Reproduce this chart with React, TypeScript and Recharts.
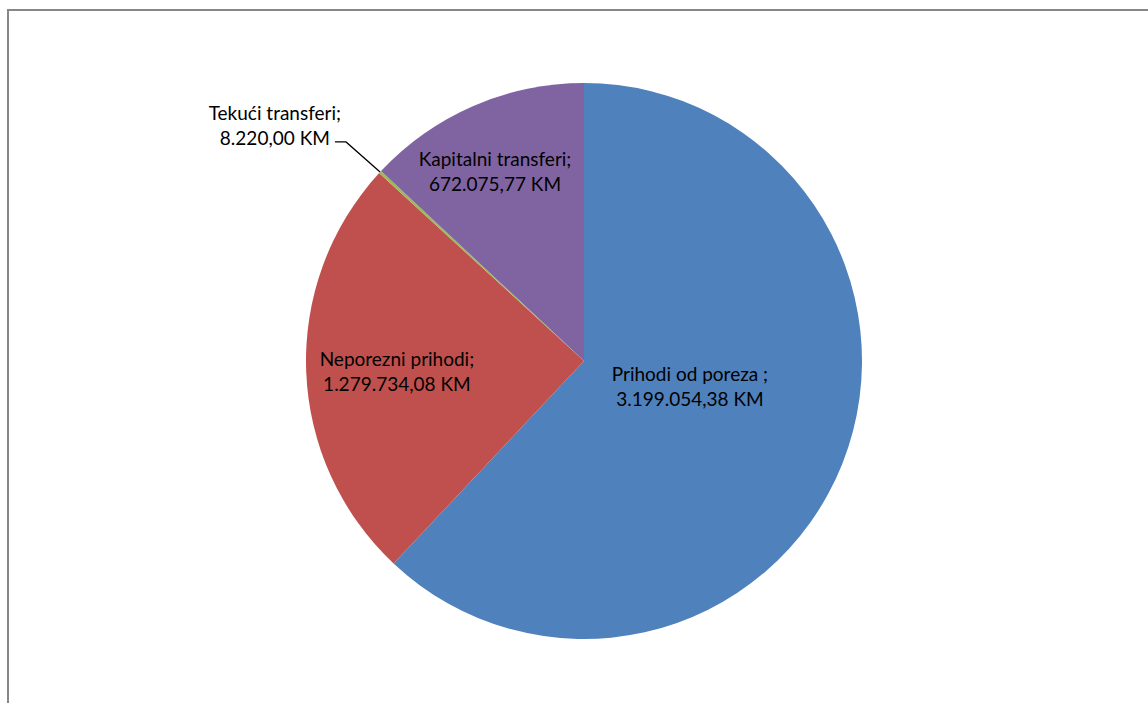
import { PieChart, Pie, Cell } from 'recharts';

const categories = ['Prihodi od poreza ;', 'Neporezni prihodi;', 'Tekući transferi;', 'Kapitalni transferi;'];
const amounts = [3199054.38, 1279734.08, 8220.0, 672075.77];
const amountLabels = ['3.199.054,38 KM', '1.279.734,08 KM', '8.220,00 KM', '672.075,77 KM'];
const colors = ['#4F81BD', '#C0504D', '#9BBB59', '#8064A2'];

const data = categories.map((name, i) => ({ name, value: amounts[i], label: amountLabels[i] }));

// label centres relative to pie centre, in units of the radius
const labelPos = [
  { dx: 0.381, dy: 0.086 },
  { dx: -0.673, dy: 0.032 },
  { dx: -1.112, dy: -0.853 },
  { dx: -0.32, dy: -0.687 },
];

const RAD = Math.PI / 180;

function renderLabel(props: any) {
  const { cx, cy, outerRadius, midAngle, index } = props;
  const p = labelPos[index];
  const x = cx + p.dx * outerRadius;
  const y = cy + p.dy * outerRadius;
  let leader = null;
  if (index === 2) {
    const ex = cx + outerRadius * Math.cos(-midAngle * RAD);
    const ey = cy + outerRadius * Math.sin(-midAngle * RAD);
    const bx = cx - 0.856 * outerRadius;
    const by = cy - 0.788 * outerRadius;
    const hx = cx - 0.896 * outerRadius;
    leader = <path d={`M${ex},${ey}L${bx},${by}L${hx},${by}`} stroke="#000" strokeWidth={1.3} fill="none" />;
  }
  return (
    <g>
      {leader}
      <text x={x} y={y} textAnchor="middle" fill="#000" fontSize={19} fontFamily="Lato, 'Open Sans', sans-serif">
        <tspan x={x} dy="-0.2em">{data[index].name}</tspan>
        <tspan x={x} dy="1.3em">{data[index].label}</tspan>
      </text>
    </g>
  );
}

export default function App() {
  return (
    <div style={{ position: 'fixed', left: 0, top: 0, width: 1148, height: 703, overflow: 'hidden', background: '#fff' }}>
      <div
        style={{
          position: 'absolute',
          left: 7,
          top: 9,
          width: 1300,
          height: 900,
          borderLeft: '2px solid #878787',
          borderTop: '2px solid #878787',
        }}
      />
      <div style={{ position: 'absolute', left: 0, top: 0 }}>
        <PieChart width={1148} height={703}>
          <Pie
            data={data}
            dataKey="value"
            cx={579}
            cy={356}
            outerRadius={278}
            startAngle={90}
            endAngle={-270}
            stroke="none"
            label={renderLabel}
            labelLine={false}
            isAnimationActive={false}
          >
            {data.map((d, i) => (
              <Cell key={d.name} fill={colors[i]} />
            ))}
          </Pie>
        </PieChart>
      </div>
    </div>
  );
}
